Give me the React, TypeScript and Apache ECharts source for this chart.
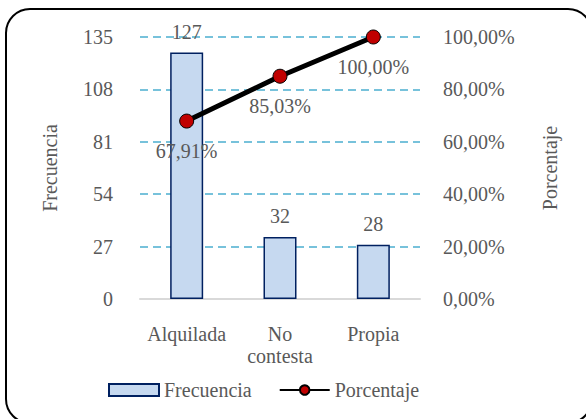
import React, { useEffect, useRef } from "react";
import * as echarts from "echarts";

const categories = ["Alquilada", "No\ncontesta", "Propia"];
const frecuencia = [127, 32, 28];
const porcentaje = [67.91, 85.03, 100.0];
const leftTicks = { min: 0, max: 135, interval: 27 };
const rightTicks = { min: 0, max: 100, interval: 20 };

const FONT = "'Liberation Serif', 'Times New Roman', serif";
const GREY = "#595959";

const fmtPct = (v: number) => v.toFixed(2).replace(".", ",") + "%";

export default function App() {
  const ref = useRef<HTMLDivElement>(null);
  useEffect(() => {
    if (!ref.current) return;
    const chart = echarts.init(ref.current, undefined, { renderer: "svg" });
    chart.setOption({
      animation: false,
      backgroundColor: "#ffffff",
      textStyle: { fontFamily: FONT },
      graphic: [
        {
          type: "rect",
          shape: { x: 6, y: 9, width: 586, height: 414, r: 24 },
          style: { fill: "none", stroke: "#000000", lineWidth: 2 },
          z: 100,
        },
      ],
      grid: {
        left: 140,
        right: 166,
        top: 37,
        bottom: 120,
        containLabel: false,
        outerBoundsMode: "none",
      },
      legend: {
        left: 103,
        top: 375,
        itemWidth: 50,
        itemHeight: 12,
        itemGap: 27,
        textStyle: { fontFamily: FONT, fontSize: 20, color: GREY },
        data: [
          { name: "Frecuencia", icon: "rect" },
          { name: "Porcentaje" },
        ],
      },
      xAxis: {
        type: "category",
        data: categories,
        axisTick: { show: false },
        axisLine: { lineStyle: { color: "#D9D9D9", width: 2 } },
        axisLabel: {
          interval: 0,
          fontFamily: FONT,
          fontSize: 20,
          color: GREY,
          margin: 24,
          lineHeight: 22,
        },
      },
      yAxis: [
        {
          type: "value",
          min: leftTicks.min,
          max: leftTicks.max,
          interval: leftTicks.interval,
          name: "Frecuencia",
          nameLocation: "middle",
          nameGap: 80,
          nameTextStyle: { fontFamily: FONT, fontSize: 20, color: GREY },
          axisLine: { show: false },
          axisTick: { show: false },
          axisLabel: { fontFamily: FONT, fontSize: 20, color: GREY, margin: 27 },
          splitLine: {
            lineStyle: { color: "#4BAFD0", width: 1.5, type: [8, 5] },
          },
        },
        {
          type: "value",
          min: rightTicks.min,
          max: rightTicks.max,
          interval: rightTicks.interval,
          name: "Porcentaje",
          nameLocation: "middle",
          nameGap: 120,
          nameTextStyle: { fontFamily: FONT, fontSize: 20, color: GREY },
          axisLine: { show: false },
          axisTick: { show: false },
          splitLine: { show: false },
          axisLabel: {
            fontFamily: FONT,
            fontSize: 20,
            color: GREY,
            margin: 23,
            formatter: (v: number) => fmtPct(v),
          },
        },
      ],
      series: [
        {
          name: "Frecuencia",
          type: "bar",
          data: frecuencia,
          barWidth: 33,
          itemStyle: {
            color: "#C6D9F0",
            borderColor: "#002060",
            borderWidth: 1.5,
          },
          label: {
            show: true,
            position: "top",
            distance: 11,
            fontFamily: FONT,
            fontSize: 20,
            color: GREY,
          },
        },
        {
          name: "Porcentaje",
          type: "line",
          yAxisIndex: 1,
          data: porcentaje,
          symbol: "circle",
          symbolSize: 14,
          lineStyle: { color: "#000000", width: 5 },
          itemStyle: { color: "#C00000", borderColor: "#000000", borderWidth: 1 },
          label: {
            show: true,
            position: "bottom",
            distance: 12,
            fontFamily: FONT,
            fontSize: 20,
            color: GREY,
            formatter: (p: any) => fmtPct(p.value),
          },
          z: 5,
        },
      ],
    });
    return () => chart.dispose();
  }, []);
  return (
    <div
      ref={ref}
      style={{ position: "fixed", left: 0, top: 0, width: 586, height: 419 }}
    />
  );
}
